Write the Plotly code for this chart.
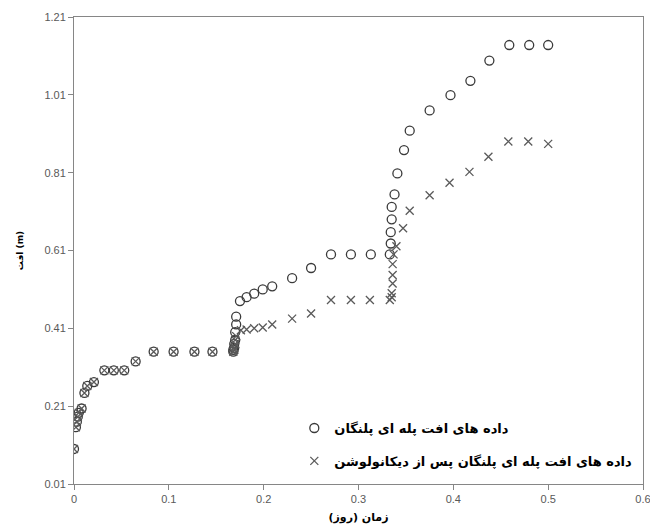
import plotly.graph_objects as go

# Data
circle_name = "داده های افت پله ای پلنگان"
cross_name = "داده های افت پله ای پلنگان پس از دیکانولوشن"

circle_x = [0, 0.002, 0.003, 0.004, 0.005, 0.008, 0.011, 0.014, 0.021,
            0.032, 0.042, 0.053, 0.065, 0.084, 0.105, 0.127, 0.146,
            0.168, 0.168, 0.169, 0.169, 0.170, 0.170, 0.171, 0.171,
            0.175, 0.182, 0.190, 0.199, 0.209, 0.230, 0.250,
            0.271, 0.292, 0.313, 0.333, 0.334, 0.334, 0.335, 0.335,
            0.338, 0.341, 0.348, 0.354, 0.375, 0.397, 0.418, 0.438,
            0.459, 0.480, 0.500]
circle_y = [0.10, 0.156, 0.17, 0.183, 0.193, 0.204, 0.244, 0.262, 0.272,
            0.302, 0.302, 0.302, 0.325, 0.35, 0.35, 0.35, 0.35,
            0.35, 0.355, 0.36, 0.37, 0.38, 0.40, 0.42, 0.44,
            0.48, 0.49, 0.499, 0.51, 0.518, 0.539, 0.565,
            0.60, 0.60, 0.60, 0.60, 0.628, 0.657, 0.69, 0.722,
            0.754, 0.808, 0.868, 0.918, 0.97, 1.009, 1.046, 1.098,
            1.138, 1.138, 1.138]

cross_x = [0, 0.002, 0.003, 0.004, 0.005, 0.008, 0.011, 0.014, 0.021,
           0.032, 0.042, 0.053, 0.065, 0.084, 0.105, 0.127, 0.146,
           0.168, 0.169, 0.169, 0.170, 0.170, 0.171,
           0.176, 0.182, 0.190, 0.199, 0.209, 0.230, 0.250,
           0.271, 0.292, 0.312, 0.333, 0.335, 0.335, 0.336, 0.336,
           0.336, 0.337, 0.340, 0.347, 0.354, 0.375, 0.396, 0.417,
           0.437, 0.458, 0.479, 0.500]
cross_y = [0.10, 0.156, 0.17, 0.183, 0.193, 0.204, 0.244, 0.262, 0.272,
           0.302, 0.302, 0.302, 0.325, 0.35, 0.35, 0.35, 0.35,
           0.35, 0.355, 0.36, 0.37, 0.38, 0.39,
           0.405, 0.407, 0.41, 0.412, 0.42, 0.435, 0.448,
           0.483, 0.483, 0.483, 0.483, 0.49, 0.50, 0.525, 0.547,
           0.575, 0.60, 0.621, 0.667, 0.712, 0.752, 0.784, 0.812,
           0.851, 0.89, 0.89, 0.884]

x_ticks = [0, 0.1, 0.2, 0.3, 0.4, 0.5, 0.6]
x_tick_labels = ["0", "0.1", "0.2", "0.3", "0.4", "0.5", "0.6"]
y_ticks = [0.01, 0.21, 0.41, 0.61, 0.81, 1.01, 1.21]
y_tick_labels = ["0.01", "0.21", "0.41", "0.61", "0.81", "1.01", "1.21"]

fig = go.Figure()
fig.add_trace(go.Scatter(
    x=circle_x, y=circle_y, mode="markers", name=circle_name,
    legendgroup="a",
    marker=dict(symbol="circle-open", size=9, color="#3a3a3a",
                line=dict(width=1.3, color="#3a3a3a")),
))
fig.add_trace(go.Scatter(
    x=cross_x, y=cross_y, mode="markers", name=cross_name,
    legendgroup="b",
    marker=dict(symbol="x-thin-open", size=8, color="#5a5a5a",
                line=dict(width=1.3, color="#5a5a5a")),
))

axis_common = dict(
    showline=True, linecolor="#868686", linewidth=1, mirror=True,
    showgrid=False, zeroline=False, ticks="outside", ticklen=5,
    tickcolor="#868686", automargin=False, ticklabeloverflow="allow",
    tickfont=dict(family="Liberation Sans, Arial", size=11, color="#595959"),
)

fig.update_layout(
    width=650, height=529,
    margin=dict(l=74, r=7, t=17, b=45),
    paper_bgcolor="white", plot_bgcolor="white",
    showlegend=True,
    legend=dict(
        x=0.99, xanchor="right", y=0.017, yanchor="bottom",
        bgcolor="rgba(255,255,255,0)",
        font=dict(family="DejaVu Sans", size=13, color="black", weight="bold"),
        traceorder="grouped", tracegroupgap=13,
    ),
    xaxis=dict(range=[0, 0.6], tickvals=x_ticks, ticktext=x_tick_labels,
               title=dict(text="<b>زمان (روز)</b>", standoff=9,
                          font=dict(family="DejaVu Sans", size=11, color="black")),
               **axis_common),
    yaxis=dict(range=[0.01, 1.21], tickvals=y_ticks, ticktext=y_tick_labels,
               title=dict(text="<b>افت (m)</b>", standoff=19,
                          font=dict(family="DejaVu Sans", size=9, color="black")),
               **axis_common),
)

fig.write_html("out.html",
               config={"displayModeBar": False},
               post_script="document.body.style.margin='0';")
